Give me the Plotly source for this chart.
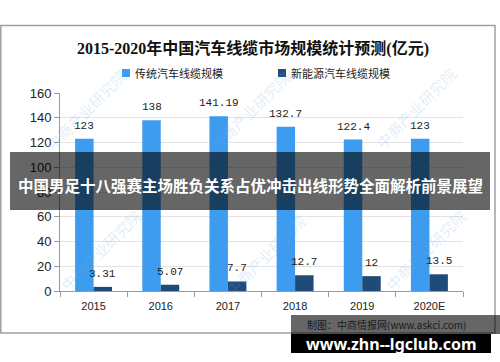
import plotly.graph_objects as go

categories = ["2015", "2016", "2017", "2018", "2019", "2020E"]
traditional = [123, 138, 141.19, 132.7, 122.4, 123]
new_energy = [3.31, 5.07, 7.7, 12.7, 12, 13.5]
traditional_labels = ["123", "138", "141.19", "132.7", "122.4", "123"]
new_energy_labels = ["3.31", "5.07", "7.7", "12.7", "12", "13.5"]
series_names = ["传统汽车线缆规模", "新能源汽车线缆规模"]
title_text = "2015-2020年中国汽车线缆市场规模统计预测(亿元)"
banner_text = "中国男足十八强赛主场胜负关系占优冲击出线形势全面解析前景展望"
source_text = "制图：中商情报网(www.askci.com)"
site_text = "www.zhn--lgclub.com"

W, H = 500, 362
L, R, T, B = 60, 37, 93, 71
PW, PH = W - L - R, H - T - B

def px(x):
    return (x - L) / PW

def py(y):
    return (H - B - y) / PH

c_blue = "#3d9cf0"
c_dark = "#1f4b78"

fig = go.Figure()
fig.add_bar(x=categories, y=traditional, name=series_names[0], marker_color=c_blue,
            marker_line_width=0, showlegend=False, hoverinfo="skip")
fig.add_bar(x=categories, y=new_energy, name=series_names[1], marker_color=c_dark,
            marker_line_width=0, showlegend=False, hoverinfo="skip")

annotations = []
shapes = []

def note(x, y, text, font, xanchor="center", **kw):
    d = dict(x=px(x), y=py(y), xref="paper", yref="paper", text=text, showarrow=False,
             xanchor=xanchor, yanchor="middle", font=font)
    d.update(kw)
    annotations.append(d)

bar_half = PW / len(categories) * (1 - 0.45) / 4
lab_font = dict(family="Liberation Mono, DejaVu Sans Mono, monospace", size=11, color="#222")
for i, (v, t) in enumerate(zip(traditional, traditional_labels)):
    annotations.append(dict(x=i, y=v, text=t, showarrow=False, xshift=-bar_half, yshift=13,
                            xanchor="center", yanchor="middle", font=lab_font, xref="x", yref="y"))
for i, (v, t) in enumerate(zip(new_energy, new_energy_labels)):
    annotations.append(dict(x=i, y=v, text=t, showarrow=False, xshift=bar_half, yshift=13,
                            xanchor="center", yanchor="middle", font=lab_font, xref="x", yref="y"))

# watermarks
wm_font = dict(family="Noto Sans CJK SC", size=15, color="rgba(110,170,225,0.22)")
for (wx, wy) in [(100, 250), (265, 255), (425, 250), (85, 110), (250, 112), (415, 108)]:
    note(wx, wy, "中商产业研究院", wm_font, textangle=-45)

# title
note(253, 49, "<b>" + title_text + "</b>",
     dict(family="Liberation Serif, Noto Sans CJK SC", size=16, color="#111"))
# legend
leg_font = dict(family="Noto Sans CJK SC", size=11, color="#222")
for lx, name, col in [(126, series_names[0], c_blue), (282, series_names[1], c_dark)]:
    shapes.append(dict(type="rect", xref="paper", yref="paper", x0=px(lx - 4), x1=px(lx + 4),
                       y0=py(77), y1=py(69), fillcolor=col, line_width=0))
    note(lx + 7, 73, name, leg_font, xanchor="left")

# frame
shapes.append(dict(type="rect", xref="paper", yref="paper", x0=px(0.8), x1=px(495), y0=py(25.5), y1=py(333),
                   line=dict(color="#a0a0a0", width=1.5), fillcolor="rgba(0,0,0,0)", layer="below"))

# banner overlay
shapes.append(dict(type="rect", xref="paper", yref="paper", x0=px(10), x1=px(490), y0=py(152), y1=py(210),
                   fillcolor="rgba(0,0,0,0.6)", line_width=0, layer="above"))
note(250, 185, "<b>" + banner_text + "</b>", dict(family="Noto Sans CJK SC", size=15.5, color="white"))

# source overlay
shapes.append(dict(type="rect", xref="paper", yref="paper", x0=px(291), x1=px(500), y0=py(315), y1=py(334),
                   fillcolor="rgba(0,0,0,0.6)", line_width=0, layer="above"))
note(305, 324.5, source_text, dict(family="Noto Sans CJK SC", size=10, color="#1a1a1a"), xanchor="left")
shapes.append(dict(type="rect", xref="paper", yref="paper", x0=px(291), x1=px(491), y0=py(334), y1=py(353),
                   fillcolor="black", line_width=0, layer="above"))
note(391, 343.5, "<b>" + site_text + "</b>", dict(family="Noto Sans, DejaVu Sans", size=16, color="white"))

fig.update_layout(
    width=W, height=H,
    margin=dict(l=L, r=R, t=T, b=B, pad=0),
    paper_bgcolor="white", plot_bgcolor="white",
    barmode="group", bargap=0.45, bargroupgap=0,
    annotations=annotations, shapes=shapes, hovermode=False,
    xaxis=dict(type="category", range=[-0.5, len(categories) - 0.5], showline=True, linecolor="#999", linewidth=1,
               ticks="outside", tickson="boundaries", ticklen=5, tickcolor="#999", ticklabelstandoff=5,
               tickfont=dict(family="Liberation Sans", size=11, color="#222"), showgrid=False),
    yaxis=dict(range=[0, 160], dtick=20, showline=True, linecolor="#999", linewidth=1,
               ticks="outside", ticklen=5, tickcolor="#999", gridcolor="#e3e3e3",
               tickfont=dict(family="Liberation Sans", size=13, color="#222"), zeroline=False),
)

fig.write_html("out.html", config={"displayModeBar": False, "staticPlot": True},
               post_script="document.body.style.margin='0';document.body.style.overflow='hidden';")
